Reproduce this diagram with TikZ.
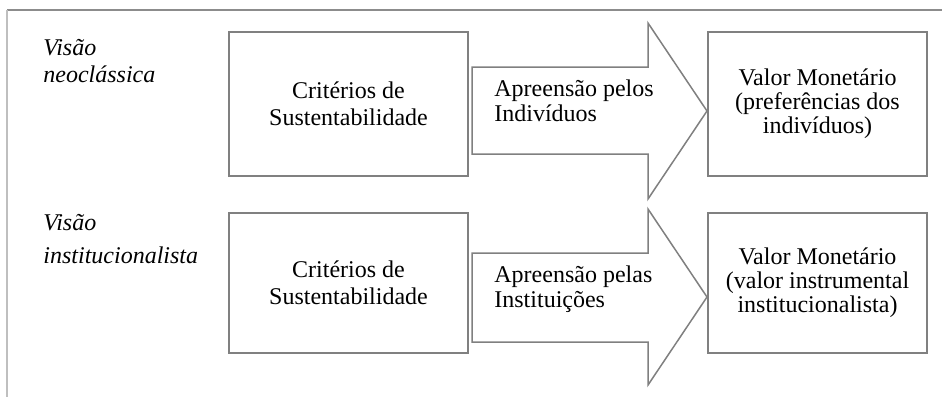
\documentclass[tikz,border=0pt]{standalone}
\usepackage{fontspec}
\setmainfont{Liberation Serif}
\tikzstyle{box} = [rectangle, draw=black!50, line width=0.75pt, fill=white, text centered, align=center, font=\fontsize{12}{13.5}\selectfont]
\tikzstyle{critbox} = [box, minimum width=119.5pt, minimum height=72pt]
\tikzstyle{valbox} = [box, minimum width=109.5pt, minimum height=72pt, font=\fontsize{12}{12}\selectfont]
\tikzstyle{bigarrow} = [draw=black!50, line width=0.75pt, fill=white, line join=miter]
\tikzstyle{view} = [anchor=north west, inner sep=0pt, align=left, font=\itshape\fontsize{12}{13.5}\selectfont]
\tikzstyle{arrowtext} = [anchor=west, inner sep=0pt, align=left, font=\fontsize{12}{12.5}\selectfont]

\begin{document}
\begin{tikzpicture}[x=0.5pt, y=-0.5pt, node distance=89.5pt]
\useasboundingbox (0,0) rectangle (942,397);
% frame
\draw[black!45, line width=0.75pt] (942,10) -- (7,10);
\draw[black!25, line width=1pt] (7,10) -- (7,397);
% neoclassical view
\node(neo)[view] at (43,38.5) {Visão\\neoclássica};
\node(critneo)[critbox] at (348.5,104) {Critérios de\\Sustentabilidade};
\draw[bigarrow] (472,67) -- (648,67) -- (648,23) -- (707,111) -- (648,199) -- (648,154) -- (472,154) -- cycle;
\node(aprneo)[arrowtext] at (494,101) {Apreensão pelos\\Indivíduos};
\node(valneo)[valbox] at (817.5,104) {Valor Monetário\\(preferências dos\\indivíduos)};
% institutionalist view
\node(inst)[view, font=\itshape\fontsize{12}{16.5}\selectfont] at (43,213.5) {Visão\\institucionalista};
\node(critinst)[critbox, below of=critneo, minimum height=70pt]{Critérios de\\Sustentabilidade};
\draw[bigarrow] (472,253) -- (648,253) -- (648,209) -- (707,297) -- (648,385) -- (648,342) -- (472,342) -- cycle;
\node(aprinst)[arrowtext] at (494,289) {Apreensão pelas\\Instituições};
\node(valinst)[valbox, below of=valneo, minimum height=70pt]{Valor Monetário\\(valor instrumental\\institucionalista)};
\end{tikzpicture}
\end{document}
